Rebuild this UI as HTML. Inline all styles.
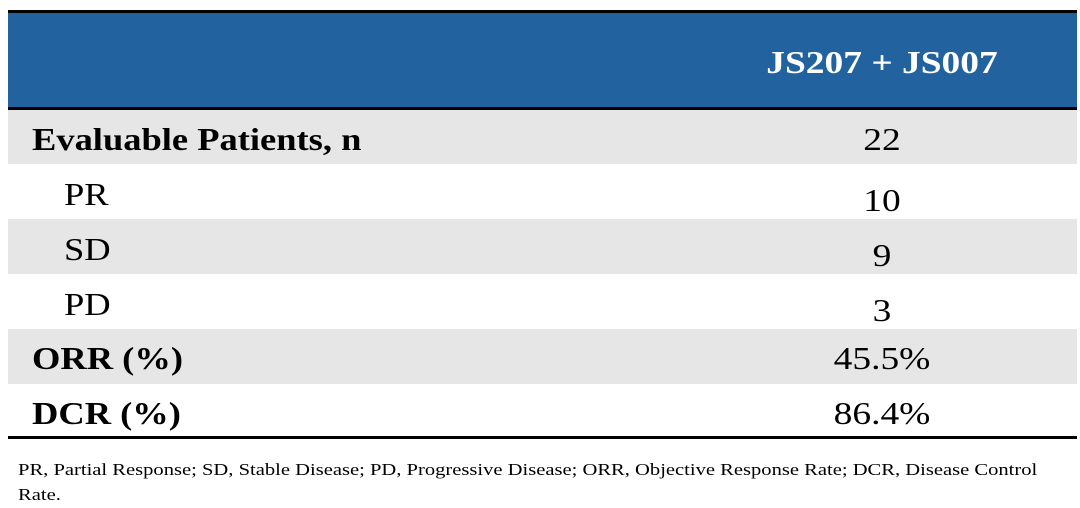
<!DOCTYPE html>
<html><head><style>
body{margin:0;width:1080px;height:508px;background:#fff;font-family:"Liberation Serif",serif;position:relative;overflow:hidden}
.b{position:absolute;left:8px;width:1069px}
.t{position:absolute;font-size:32px;color:#000;line-height:1;transform:scaleX(1.14);transform-origin:left top;white-space:nowrap}
.v{position:absolute;left:782px;width:200px;text-align:center;font-size:32px;line-height:1;transform:scaleX(1.17);transform-origin:center top}
</style></head><body>
<div class="b" style="top:10px;height:3px;background:#000"></div>
<div class="b" style="top:13px;height:94px;background:#21629f"></div>
<div class="b" style="top:107px;height:3px;background:#000"></div>
<div class="v" style="left:732px;width:300px;top:46px;color:#fff;font-weight:bold">JS207 + JS007</div>
<div class="b" style="top:110px;height:54px;background:#e6e6e6"></div>
<div class="b" style="top:219px;height:55px;background:#e6e6e6"></div>
<div class="b" style="top:329px;height:55px;background:#e6e6e6"></div>
<div class="b" style="top:436px;height:3px;background:#000"></div>
<div class="t" style="left:32px;top:123px;font-weight:bold">Evaluable Patients, n</div>
<div class="t" style="left:64px;top:178px">PR</div>
<div class="t" style="left:64px;top:233px">SD</div>
<div class="t" style="left:64px;top:288px">PD</div>
<div class="t" style="left:32px;top:342px;font-weight:bold">ORR (%)</div>
<div class="t" style="left:32px;top:397px;font-weight:bold">DCR (%)</div>
<div class="v" style="top:123px">22</div>
<div class="v" style="top:184px">10</div>
<div class="v" style="top:239px">9</div>
<div class="v" style="top:294px">3</div>
<div class="v" style="top:342px">45.5%</div>
<div class="v" style="top:397px">86.4%</div>
<div style="position:absolute;left:18px;top:457px;width:870px;font-size:17px;line-height:25px;transform:scaleX(1.21);transform-origin:left top">PR, Partial Response; SD, Stable Disease; PD, Progressive Disease; ORR, Objective Response Rate; DCR, Disease Control Rate.</div>
</body></html>
